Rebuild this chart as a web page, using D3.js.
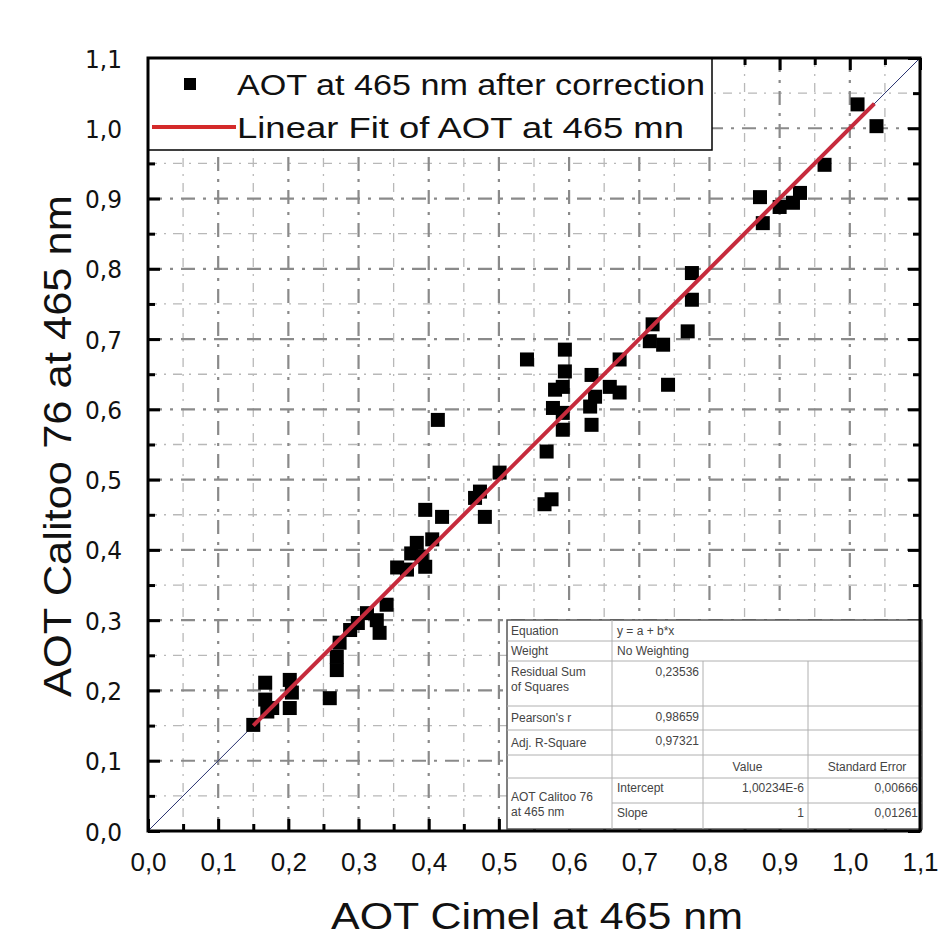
<!DOCTYPE html>
<html>
<head>
<meta charset="utf-8">
<script src="https://cdn.jsdelivr.net/npm/d3@7"></script>
<style>
  html, body { margin: 0; padding: 0; background: #fff; }
  svg { display: block; font-family: "Liberation Sans", Arial, sans-serif; }
</style>
</head>
<body>
<svg id="chart" width="947" height="938"></svg>
<script>
// ---- data ----
const cimel = [0.150,0.167,0.167,0.177,0.170,0.202,0.202,0.205,0.259,0.269,0.269,0.273,0.288,0.299,0.312,0.330,0.340,0.326,
  0.355,0.369,0.375,0.383,0.405,0.395,0.390,0.395,0.419,0.413,0.466,0.473,0.480,0.501,
  0.540,0.594,0.594,0.580,0.591,0.577,0.591,0.591,0.568,0.565,0.575,
  0.632,0.637,0.630,0.632,0.658,0.672,0.672,0.715,0.734,0.741,0.769,0.719,0.775,0.775,
  0.872,0.876,0.900,0.919,0.929,0.964,1.011,1.038];
const calitoo = [0.151,0.211,0.187,0.175,0.170,0.215,0.175,0.197,0.189,0.229,0.248,0.268,0.286,0.296,0.310,0.282,0.322,0.300,
  0.375,0.372,0.395,0.410,0.415,0.376,0.390,0.457,0.447,0.585,0.474,0.483,0.447,0.510,
  0.671,0.685,0.654,0.628,0.632,0.602,0.595,0.571,0.540,0.465,0.472,
  0.649,0.618,0.604,0.578,0.632,0.624,0.671,0.697,0.692,0.635,0.711,0.721,0.794,0.756,
  0.902,0.865,0.888,0.894,0.908,0.948,1.034,1.003];
const tickValues = [0,0.1,0.2,0.3,0.4,0.5,0.6,0.7,0.8,0.9,1.0,1.1];
const tickLabels = ["0,0","0,1","0,2","0,3","0,4","0,5","0,6","0,7","0,8","0,9","1,0","1,1"];
const fitIntercept = 1.00234e-6, fitSlope = 1;
const fitRange = [0.15, 1.035];
const legendLabels = ["AOT at 465 nm after correction", "Linear Fit of AOT at 465 mn"];
const xTitle = "AOT Cimel at 465 nm";
const yTitle = "AOT Calitoo  76 at 465 nm";
const tableRows = [
  ["Equation", "y = a + b*x"],
  ["Weight", "No Weighting"],
  ["Residual Sum|of Squares", "0,23536"],
  ["Pearson's r", "0,98659"],
  ["Adj. R-Square", "0,97321"]
];
const tableParams = [["Intercept","1,00234E-6","0,00666"],["Slope","1","0,01261"]];
const tableSeries = "AOT Calitoo  76|at 465 nm";

// ---- layout ----
const L = 148, R = 920, T = 58, B = 831;
const svg = d3.select("#chart");
const x = d3.scaleLinear().domain([0,1.1]).range([L,R]);
const y = d3.scaleLinear().domain([0,1.1]).range([B,T]);
const minor = d3.range(0.05, 1.1, 0.1);

// grid
const g = svg.append("g");
g.selectAll(".vmin").data(minor).join("line")
  .attr("x1", d=>x(d)).attr("x2", d=>x(d)).attr("y1", T).attr("y2", B)
  .attr("stroke", "#b8b8b8").attr("stroke-width", 1.3).attr("stroke-dasharray", "9,7,2,7");
g.selectAll(".hmin").data(minor).join("line")
  .attr("y1", d=>y(d)).attr("y2", d=>y(d)).attr("x1", L).attr("x2", R)
  .attr("stroke", "#b8b8b8").attr("stroke-width", 1.3).attr("stroke-dasharray", "9,7,2,7");
const major = tickValues.slice(1, -1);
g.selectAll(".vmaj").data(major).join("line")
  .attr("x1", d=>x(d)).attr("x2", d=>x(d)).attr("y1", T).attr("y2", B)
  .attr("stroke", "#8a8a8a").attr("stroke-width", 2.2).attr("stroke-dasharray", "14,8,3,8");
g.selectAll(".hmaj").data(major).join("line")
  .attr("y1", d=>y(d)).attr("y2", d=>y(d)).attr("x1", L).attr("x2", R)
  .attr("stroke", "#8a8a8a").attr("stroke-width", 2.2).attr("stroke-dasharray", "14,8,3,8");

// 1:1 diagonal
svg.append("line").attr("x1", x(0)).attr("y1", y(0)).attr("x2", x(1.1)).attr("y2", y(1.1))
  .attr("stroke", "#2a3370").attr("stroke-width", 1);

// points
svg.append("g").selectAll("rect").data(cimel.map((c,i)=>[c, calitoo[i]])).join("rect")
  .attr("x", d=>x(d[0])-7).attr("y", d=>y(d[1])-7).attr("width", 14).attr("height", 14)
  .attr("fill", "#000");

// fit line
svg.append("line")
  .attr("x1", x(fitRange[0])).attr("y1", y(fitIntercept + fitSlope*fitRange[0]))
  .attr("x2", x(fitRange[1])).attr("y2", y(fitIntercept + fitSlope*fitRange[1]))
  .attr("stroke", "#c62a3c").attr("stroke-width", 4);

// axes with inward ticks
const tf = (d) => tickLabels[tickValues.indexOf(d)] ?? "";
const axB = svg.append("g").attr("transform", `translate(0,${B})`)
  .call(d3.axisTop(x).tickValues(tickValues).tickSize(12).tickFormat(""));
const axBm = svg.append("g").attr("transform", `translate(0,${B})`)
  .call(d3.axisTop(x).tickValues(minor).tickSize(7).tickFormat(""));
const axT = svg.append("g").attr("transform", `translate(0,${T})`)
  .call(d3.axisBottom(x).tickValues(tickValues).tickSize(12).tickFormat(""));
const axTm = svg.append("g").attr("transform", `translate(0,${T})`)
  .call(d3.axisBottom(x).tickValues(minor).tickSize(7).tickFormat(""));
const axL = svg.append("g").attr("transform", `translate(${L},0)`)
  .call(d3.axisRight(y).tickValues(tickValues).tickSize(12).tickFormat(""));
const axLm = svg.append("g").attr("transform", `translate(${L},0)`)
  .call(d3.axisRight(y).tickValues(minor).tickSize(7).tickFormat(""));
const axR = svg.append("g").attr("transform", `translate(${R},0)`)
  .call(d3.axisLeft(y).tickValues(tickValues).tickSize(12).tickFormat(""));
const axRm = svg.append("g").attr("transform", `translate(${R},0)`)
  .call(d3.axisLeft(y).tickValues(minor).tickSize(7).tickFormat(""));
[axB,axBm,axT,axTm,axL,axLm,axR,axRm].forEach(a => {
  a.select(".domain").remove();
  a.selectAll("line").attr("stroke", "#000").attr("stroke-width", 3);
});

// tick labels
const labX = svg.append("g").attr("transform", `translate(0,${B})`)
  .call(d3.axisBottom(x).tickValues(tickValues).tickSize(0).tickPadding(40).tickFormat(tf));
labX.select(".domain").remove();
labX.selectAll("text").attr("font-size", 26).attr("fill", "#111").attr("dy", 0)
  .attr("font-family", "Liberation Sans, Arial, sans-serif");
const labY = svg.append("g").attr("transform", `translate(${L},0)`)
  .call(d3.axisLeft(y).tickValues(tickValues).tickSize(0).tickPadding(26).tickFormat(tf));
labY.select(".domain").remove();
labY.selectAll("text").attr("font-size", 25).attr("fill", "#111").attr("dy", "0.36em")
  .attr("font-family", "DejaVu Sans, sans-serif").attr("textLength", 37).attr("lengthAdjust", "spacingAndGlyphs");

// stats table
const tb = svg.append("g");
const cx = [507, 612, 703, 808, 922];
const ry = [620, 641, 661, 706, 730, 755, 778, 803, 829];
tb.append("rect").attr("x", cx[0]).attr("y", ry[0]).attr("width", cx[4]-cx[0]).attr("height", ry[8]-ry[0])
  .attr("fill", "#fff").attr("stroke", "#555").attr("stroke-width", 1.5);
const gl = "#b0b0b0";
ry.slice(1, -1).forEach((yy, i) => {
  const startX = (i === 6) ? cx[1] : cx[0];
  tb.append("line").attr("x1", startX).attr("x2", cx[4]).attr("y1", yy).attr("y2", yy).attr("stroke", gl);
});
tb.append("line").attr("x1", cx[1]).attr("x2", cx[1]).attr("y1", ry[0]).attr("y2", ry[8]).attr("stroke", gl);
[cx[2], cx[3]].forEach(xx => tb.append("line").attr("x1", xx).attr("x2", xx).attr("y1", ry[2]).attr("y2", ry[8]).attr("stroke", gl));
const tt = (tx, ty, s, anchor="start") => tb.append("text").attr("x", tx).attr("y", ty).attr("text-anchor", anchor)
  .attr("font-size", 12).attr("fill", "#444").attr("font-family", "Liberation Sans, Arial, sans-serif").text(s);
tableRows.forEach((r, i) => {
  const top = ry[i], bot = ry[i+1];
  const parts = r[0].split("|");
  if (parts.length === 2) { tt(cx[0]+4, top+15, parts[0]); tt(cx[0]+4, top+30, parts[1]); }
  else tt(cx[0]+4, (top+bot)/2+4, parts[0]);
  if (i < 2) tt(cx[1]+5, (top+bot)/2+4, r[1]);
  else tt(cx[2]-4, top+15, r[1], "end");
});
tt((cx[2]+cx[3])/2 - 8, ry[6]-7, "Value", "middle");
tt((cx[3]+cx[4])/2 + 2, ry[6]-7, "Standard Error", "middle");
const sp = tableSeries.split("|");
tt(cx[0]+4, ry[7]-2, sp[0]); tt(cx[0]+4, ry[7]+13, sp[1]);
tableParams.forEach((p, i) => {
  const top = ry[6+i], bot = ry[7+i];
  tt(cx[1]+5, (top+bot)/2+1, p[0]);
  tt(cx[3]-4, (top+bot)/2+1, p[1], "end");
  tt(cx[4]-4, (top+bot)/2+1, p[2], "end");
});

// legend
const lg = svg.append("g");
lg.append("rect").attr("x", L).attr("y", T).attr("width", 712-L).attr("height", 150-T)
  .attr("fill", "#fff").attr("stroke", "#000").attr("stroke-width", 1.5);
lg.append("rect").attr("x", 184).attr("y", 78).attr("width", 12).attr("height", 12).attr("fill", "#000");
lg.append("line").attr("x1", 152).attr("x2", 236).attr("y1", 127).attr("y2", 127)
  .attr("stroke", "#d42a2a").attr("stroke-width", 4);
lg.append("text").attr("x", 237).attr("y", 95).attr("font-size", 29).attr("fill", "#111")
  .attr("textLength", 468).attr("lengthAdjust", "spacingAndGlyphs").text(legendLabels[0]);
lg.append("text").attr("x", 237).attr("y", 138).attr("font-size", 29).attr("fill", "#111")
  .attr("textLength", 447).attr("lengthAdjust", "spacingAndGlyphs").text(legendLabels[1]);

// frame
svg.append("rect").attr("x", L).attr("y", T).attr("width", R-L).attr("height", B-T)
  .attr("fill", "none").attr("stroke", "#000").attr("stroke-width", 3);

// axis titles
svg.append("text").attr("x", 537).attr("y", 929).attr("text-anchor", "middle")
  .attr("font-size", 36).attr("fill", "#111").attr("textLength", 412).attr("lengthAdjust", "spacingAndGlyphs").text(xTitle);
svg.append("text").attr("transform", "translate(71,446) rotate(-90)").attr("text-anchor", "middle")
  .attr("font-size", 38).attr("fill", "#111").attr("textLength", 502).attr("lengthAdjust", "spacingAndGlyphs").text(yTitle);
</script>
</body>
</html>
